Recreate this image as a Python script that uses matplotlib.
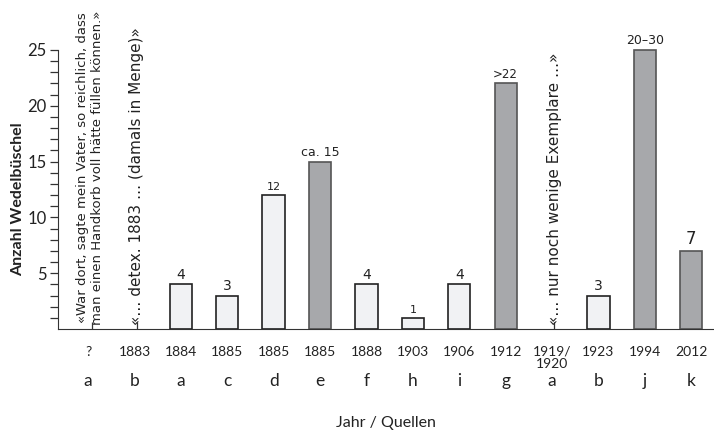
import numpy as np
import matplotlib
matplotlib.use("Agg")
import matplotlib.pyplot as plt
import matplotlib.transforms as mtransforms

years = ["?", "1883", "1884", "1885", "1885", "1885", "1888", "1903",
         "1906", "1912", "1919/\n1920", "1923", "1994", "2012"]
sources = ["a", "b", "a", "c", "d", "e", "f", "h", "i", "g", "a", "b", "j", "k"]
values = [None, None, 4, 3, 12, 15, 4, 1, 4, 22, None, 3, 25, 7]
value_labels = ["", "", "4", "3", "12", "ca. 15", "4", "1", "4", ">22", "", "3", "20\u201330", "7"]
label_sizes = [0, 0, 10, 10, 8, 9, 10, 8, 10, 8.5, 0, 10, 9, 12]
dark = [False, False, False, False, False, True, False, False, False, True, False, False, True, True]
quotes = {
    0: "\u00abWar dort, sagte mein Vater, so reichlich, dass\nman einen Handkorb voll h\u00e4tte f\u00fcllen k\u00f6nnen.\u00bb",
    1: "\u00ab\u2026 detex. 1883 \u2026 (damals in Menge)\u00bb",
    10: "\u00ab\u2026 nur noch wenige Exemplare \u2026\u00bb",
}
quote_sizes = {0: 9.5, 1: 11, 10: 11}

light_col = "#f1f2f4"
dark_col = "#a7a8ab"
label_font = "Lato"

fig = plt.figure(figsize=(7.14, 4.33), dpi=100)
ax = fig.add_axes([58 / 714, 1 - 329 / 433, 1 - 58 / 714, 329 / 433])

x = np.arange(len(years))
for i, v in enumerate(values):
    if v is None:
        continue
    ax.bar(x[i], v, width=0.48, color=dark_col if dark[i] else light_col,
           edgecolor="#555555" if dark[i] else "#222222", linewidth=1.2, zorder=2)
    ax.text(x[i], v + 0.25, value_labels[i], ha="center", va="bottom",
            fontsize=label_sizes[i], family="DejaVu Sans", color="#222222")

for i, txt in quotes.items():
    ax.text(x[i] + 0.05, 0.35, txt, rotation=90, ha="center", va="bottom",
            fontsize=quote_sizes[i], family="DejaVu Sans", color="#222222",
            linespacing=1.2)

ax.set_xlim(-0.647, 13.49)
ax.set_ylim(0, 29.48)

for s in ("top", "right"):
    ax.spines[s].set_visible(False)
ax.spines["left"].set_bounds(0, 25)
ax.spines["left"].set_color("#333333")
ax.spines["bottom"].set_color("#333333")

ax.set_yticks([5, 10, 15, 20, 25])
ax.set_yticks(np.arange(1, 26), minor=True)
ax.tick_params(axis="y", which="both", direction="out", length=6, width=0.9, colors="#333333")
ax.tick_params(axis="y", which="major", labelsize=12, labelcolor="#222222", pad=2)
for t in ax.get_yticklabels():
    t.set_family(label_font)

ax.set_xticks(x)
ax.set_xticklabels(years, fontsize=10, family=label_font, color="#222222", linespacing=1.0)
ax.tick_params(axis="x", which="major", length=0, pad=12)
ax.set_xticks([0.09, 1.05, 10.05], minor=True)
ax.tick_params(axis="x", which="minor", direction="in", length=5, width=0.9, colors="#333333")

trans = mtransforms.blended_transform_factory(ax.transData, ax.transAxes)
for i, s in enumerate(sources):
    ax.text(x[i], -0.158, s, transform=trans, ha="center", va="center",
            fontsize=12.5, family=label_font, color="#222222")

fig.text(386 / 714, 1 - 423 / 433, "Jahr / Quellen", ha="center", va="center",
         fontsize=11.5, family=label_font, color="#222222")
fig.text(18 / 714, 1 - 199 / 433, "Anzahl Wedelb\u00fcschel", ha="center", va="center",
         rotation=90, fontsize=11.5, fontweight="bold", family=label_font, color="#222222")

fig.savefig("out.png", dpi=100)
